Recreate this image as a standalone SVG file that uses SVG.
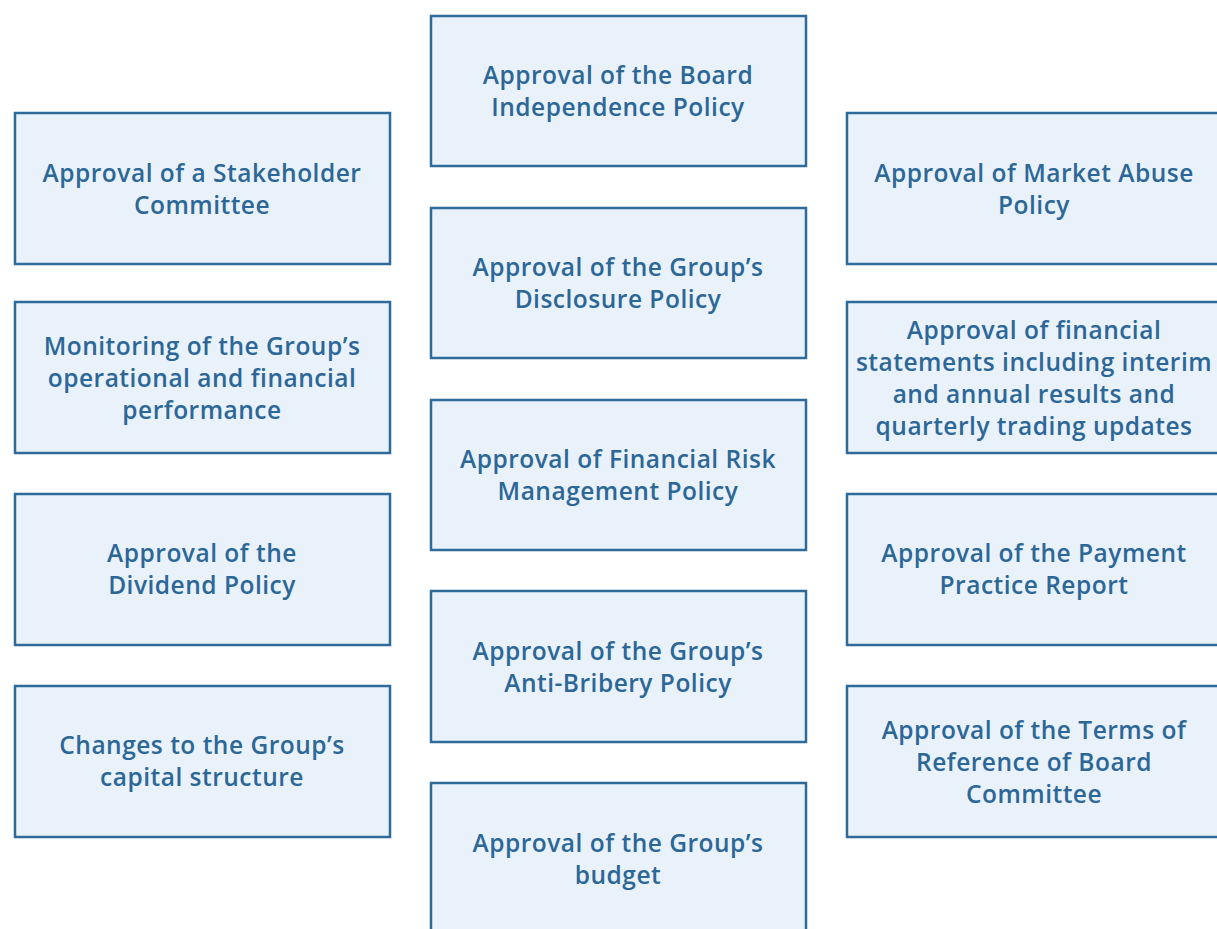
<svg xmlns="http://www.w3.org/2000/svg" width="1217" height="929" viewBox="0 0 1217 929">
<style>
.b{fill:#e9f2fb;stroke:#2e6a9a;stroke-width:2.5}
.t{font-family:"Open Sans","Liberation Sans",sans-serif;font-weight:600;font-size:24.5px;letter-spacing:0.5px;fill:#2c6797;text-anchor:middle}
</style>
<rect width="1217" height="929" fill="#ffffff"/>
<g id="connectors"></g>
<g id="n1"><rect class="b" x="431" y="16" width="375" height="150"/><text class="t"><tspan x="618" y="84">Approval of the Board</tspan><tspan x="618" y="116">Independence Policy</tspan></text></g>
<g id="n2"><rect class="b" x="15" y="113" width="375" height="151"/><text class="t"><tspan x="202" y="182">Approval of a Stakeholder</tspan><tspan x="202" y="214">Committee</tspan></text></g>
<g id="n3"><rect class="b" x="847" y="113" width="375" height="151"/><text class="t"><tspan x="1034" y="182">Approval of Market Abuse</tspan><tspan x="1034" y="214">Policy</tspan></text></g>
<g id="n4"><rect class="b" x="431" y="208" width="375" height="150"/><text class="t"><tspan x="618" y="276">Approval of the Group’s</tspan><tspan x="618" y="308">Disclosure Policy</tspan></text></g>
<g id="n5"><rect class="b" x="15" y="302" width="375" height="151"/><text class="t"><tspan x="202" y="355">Monitoring of the Group’s</tspan><tspan x="202" y="387">operational and financial</tspan><tspan x="202" y="419">performance</tspan></text></g>
<g id="n6"><rect class="b" x="847" y="302" width="375" height="151"/><text class="t"><tspan x="1034" y="339">Approval of financial</tspan><tspan x="1034" y="371">statements including interim</tspan><tspan x="1034" y="403">and annual results and</tspan><tspan x="1034" y="435">quarterly trading updates</tspan></text></g>
<g id="n7"><rect class="b" x="431" y="400" width="375" height="150"/><text class="t"><tspan x="618" y="468">Approval of Financial Risk</tspan><tspan x="618" y="500">Management Policy</tspan></text></g>
<g id="n8"><rect class="b" x="15" y="494" width="375" height="151"/><text class="t"><tspan x="202" y="562">Approval of the</tspan><tspan x="202" y="594">Dividend Policy</tspan></text></g>
<g id="n9"><rect class="b" x="847" y="494" width="375" height="151"/><text class="t"><tspan x="1034" y="562">Approval of the Payment</tspan><tspan x="1034" y="594">Practice Report</tspan></text></g>
<g id="n10"><rect class="b" x="431" y="591" width="375" height="151"/><text class="t"><tspan x="618" y="660">Approval of the Group’s</tspan><tspan x="618" y="692">Anti-Bribery Policy</tspan></text></g>
<g id="n11"><rect class="b" x="15" y="686" width="375" height="151"/><text class="t"><tspan x="202" y="754">Changes to the Group’s</tspan><tspan x="202" y="786">capital structure</tspan></text></g>
<g id="n12"><rect class="b" x="847" y="686" width="375" height="151"/><text class="t"><tspan x="1034" y="739">Approval of the Terms of</tspan><tspan x="1034" y="771">Reference of Board</tspan><tspan x="1034" y="803">Committee</tspan></text></g>
<g id="n13"><rect class="b" x="431" y="783" width="375" height="160"/><text class="t"><tspan x="618" y="852">Approval of the Group’s</tspan><tspan x="618" y="884">budget</tspan></text></g>
</svg>
